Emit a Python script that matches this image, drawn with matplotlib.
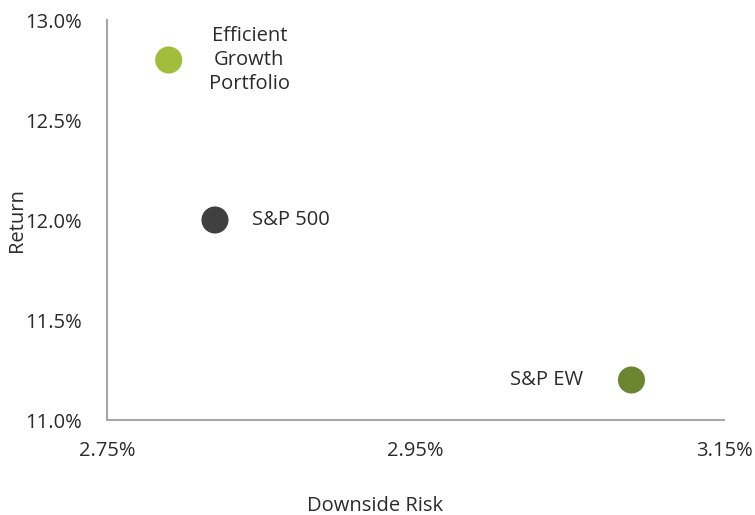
import matplotlib
matplotlib.use("Agg")
import matplotlib.pyplot as plt
from matplotlib.ticker import FuncFormatter

names = ["Efficient\nGrowth\nPortfolio", "S&P 500", "S&P EW"]
risk = [2.79, 2.82, 3.09]
ret = [12.8, 12.0, 11.2]
colors = ["#A0BE3C", "#404040", "#6A8631"]
x_ticks = [2.75, 2.95, 3.15]
y_ticks = [11.0, 11.5, 12.0, 12.5, 13.0]

plt.rcParams['font.family'] = ['Open Sans', 'DejaVu Sans']
FS = 14.5
TXT = "#2B2B2B"
fig = plt.figure(figsize=(7.55, 5.15), dpi=100)
ax = fig.add_axes([107/755, 95/515, (724-107)/755, 400/515])

ax.scatter(risk, ret, s=380, c=colors, zorder=3, linewidths=0)

offsets = [(58, 0), (27, 0), (-35, 0)]
has = ["center", "left", "right"]
for n, x, y, off, ha in zip(names, risk, ret, offsets, has):
    ax.annotate(n, (x, y), xytext=off, textcoords="offset points",
                ha=ha, va="center", fontsize=FS, color=TXT,
                linespacing=1.28)

ax.set_xlim(2.75, 3.15)
ax.set_ylim(11.0, 13.0)
ax.set_xticks(x_ticks)
ax.set_yticks(y_ticks)
ax.xaxis.set_major_formatter(FuncFormatter(lambda v, p: f"{v:.2f}%"))
ax.yaxis.set_major_formatter(FuncFormatter(lambda v, p: f"{v:.1f}%"))
ax.tick_params(length=0, labelsize=FS, colors=TXT)
ax.tick_params(axis="x", pad=15)
ax.tick_params(axis="y", pad=18)
for s in ["top", "right"]:
    ax.spines[s].set_visible(False)
for s in ["left", "bottom"]:
    ax.spines[s].set_color("#A6A6A6")
    ax.spines[s].set_linewidth(1.5)

fig.text(375/755, 1 - 506/515, "Downside Risk", ha="center", va="center", fontsize=FS, color=TXT)
fig.text(17/755, 1 - 220/515, "Return", ha="center", va="center", rotation=90, fontsize=FS, color=TXT)

fig.savefig("out.png", dpi=100)
